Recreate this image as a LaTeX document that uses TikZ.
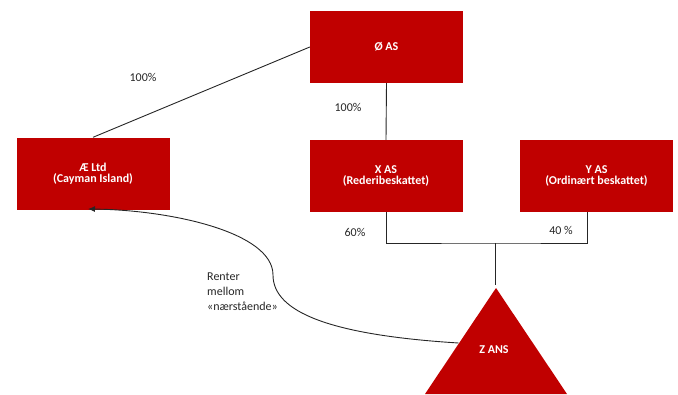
\documentclass[tikz,border=0pt]{standalone}
\usepackage{fontspec}
\setmainfont{Carlito}
\usetikzlibrary{arrows.meta}
\definecolor{boxred}{HTML}{C00000}
\tikzset{
  ent/.style={fill=boxred, text=white, font=\bfseries\fontsize{12}{11}\selectfont, align=center, minimum width=153pt, minimum height=72pt, inner sep=0pt},
  lbl/.style={font=\fontsize{12}{15}\selectfont, text=black!85, inner sep=0pt},
  conn/.style={line width=0.9pt, draw=black!85},
}
\begin{document}
\begin{tikzpicture}[x=1pt,y=-1pt]
\useasboundingbox (0,0) rectangle (678,394);
\node[ent] (o) at (386.5,47) {Ø AS};
\node[ent] (ae) at (93,173.5) {Æ Ltd\\(Cayman Island)};
\node[ent] (x) at (386,176) {X AS\\(Rederibeskattet)};
\node[ent] (y) at (596.5,176) {Y AS\\(Ordinært beskattet)};
% triangle
\coordinate (zt) at (496,288);
\fill[boxred] (zt) -- (567,394) -- (425,394) -- cycle;
\node[font=\bfseries\fontsize{12}{11}\selectfont, text=white] (z) at (494,350) {Z ANS};
\coordinate (yb) at (587,212);
\coordinate (jn) at (495,243);
\coordinate (zs) at (458.5,343);
% connectors
\draw[conn] (o.west) -- (ae.north);
\draw[conn] (o.south) -- (x.north);
\draw[conn] (x.south) |- (jn) -| (yb);
\draw[conn] (jn) -- (495,285);
\draw[conn, -{Latex[length=7pt,width=6pt]}] (zs) .. controls (330,335) and (273,312) .. (273,275) .. controls (273,232) and (170,210) .. (88,209);
% labels
\node[lbl] (l1) at (143,77) {100\%};
\node[lbl] (l2) at (348,107) {100\%};
\node[lbl] (l3) at (355,232) {60\%};
\node[lbl] (l4) at (561,230) {40 \%};
\node[lbl, align=left, anchor=north west] (l5) at (207,273) {Renter\\mellom\\«nærstående»};
\end{tikzpicture}
\end{document}
